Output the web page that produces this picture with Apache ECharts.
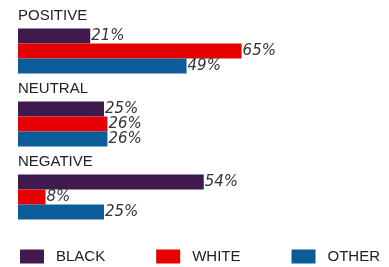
<!DOCTYPE html>
<html>
<head>
<meta charset="utf-8">
<script src="https://cdn.jsdelivr.net/npm/echarts@6/dist/echarts.min.js"></script>
<style>
  html, body { margin: 0; padding: 0; background: #fff; }
  #chart { width: 389px; height: 267px; }
</style>
</head>
<body>
<div id="chart"></div>
<script>
var categorias = ['POSITIVE', 'NEUTRAL', 'NEGATIVE'];
var grupos = ['BLACK', 'WHITE', 'OTHER'];
var valBlack = [21, 25, 54];
var valWhite = [65, 26, 8];
var valOther = [49, 26, 25];
var colores = ['#3e1a4f', '#e60000', '#0b5c99'];

var myChart = echarts.init(document.getElementById('chart'), null, { renderer: 'canvas' });

function serie(nombre, datos) {
  return {
    name: nombre,
    type: 'bar',
    barWidth: 15,
    barGap: '0%',
    data: datos,
    label: {
      show: true,
      position: 'right',
      distance: 1,
      formatter: '{c}%',
      fontFamily: 'DejaVu Sans',
      fontStyle: 'italic',
      fontSize: 15,
      color: '#333'
    }
  };
}

var option = {
  animation: false,
  color: colores,
  grid: { left: 18, right: 27, top: 14.5, bottom: 33.5 },
  legend: {
    data: grupos,
    left: 20,
    top: 249,
    padding: 0,
    itemWidth: 24,
    itemHeight: 14,
    itemGap: 51,
    icon: 'rect',
    textStyle: { fontFamily: 'Liberation Sans', fontSize: 15, color: '#222', padding: [0, 0, 0, 7] }
  },
  xAxis: {
    type: 'value',
    min: 0,
    max: 100,
    show: false
  },
  yAxis: {
    type: 'category',
    inverse: true,
    data: categorias,
    axisLine: { show: false },
    axisTick: { show: false },
    splitLine: { show: false },
    axisLabel: {
      inside: true,
      margin: 0,
      align: 'left',
      verticalAlign: 'bottom',
      padding: [0, 0, 28, 0],
      fontFamily: 'Liberation Sans',
      fontSize: 15,
      color: '#222'
    }
  },
  series: [
    serie('BLACK', valBlack),
    serie('WHITE', valWhite),
    serie('OTHER', valOther)
  ]
};

myChart.setOption(option);
</script>
</body>
</html>
